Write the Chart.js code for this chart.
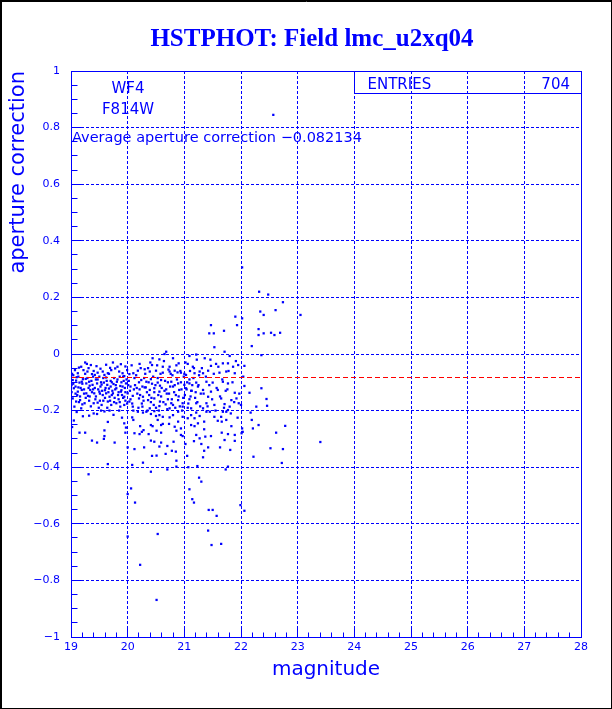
<!DOCTYPE html>
<html>
<head>
<meta charset="utf-8">
<script src="https://cdn.jsdelivr.net/npm/chart.js@4.4.1/dist/chart.umd.min.js"></script>
<style>
  html, body { margin: 0; padding: 0; background: #fff; }
  #wrap { position: relative; width: 612px; height: 709px; }
</style>
</head>
<body>
<div id="wrap"><canvas id="c" width="612" height="709"></canvas></div>
<script>
/* HSTPHOT aperture correction vs magnitude, WF4 / F814W */

const BLUE = "#0000ff";
const RED = "#ff0000";

const TITLE = "HSTPHOT: Field lmc_u2xq04";
const CHIP = "WF4";
const FILTER = "F814W";
const AVG_AP = -0.082134;
const ENTRIES = 704;

const magRange = [19, 28];
const apRange = [-1, 1];

// [magnitude, aperture correction]
const brightCore = [
  [19.28,-0.035],[19.35,-0.039],[19.18,-0.045],[19.22,-0.057],[19.07,-0.057],[19.12,-0.068],[19.29,-0.062],
  [19.37,-0.071],[19.42,-0.074],[19.47,-0.066],[19.56,-0.062],[19.59,-0.074],[19.65,-0.068],[19.71,-0.057],
  [19.78,-0.051],[19.85,-0.062],[19.91,-0.068],[19.94,-0.078],[19.99,-0.057],[20.03,-0.071],[20.10,-0.068],
  [19.03,-0.092],[19.09,-0.094],[19.15,-0.101],[19.21,-0.089],[19.27,-0.104],[19.32,-0.098],[19.38,-0.109],
  [19.46,-0.104],[19.52,-0.115],[19.58,-0.101],[19.64,-0.109],[19.70,-0.115],[19.75,-0.106],[19.80,-0.121],
  [19.87,-0.113],[19.91,-0.115],[19.97,-0.104],[20.05,-0.115],[20.11,-0.125],
  [19.05,-0.121],[19.12,-0.133],[19.19,-0.127],[19.27,-0.139],[19.34,-0.127],[19.41,-0.139],[19.50,-0.133],
  [19.56,-0.145],[19.62,-0.139],[19.68,-0.151],[19.74,-0.139],[19.83,-0.145],[19.88,-0.133],[19.94,-0.151],
  [20.00,-0.139],[20.09,-0.148],
  [19.03,-0.157],[19.09,-0.168],[19.16,-0.163],[19.24,-0.174],[19.32,-0.165],[19.40,-0.174],[19.47,-0.172],
  [19.54,-0.180],[19.65,-0.168],[19.71,-0.180],[19.80,-0.174],[19.87,-0.186],[19.94,-0.180],[20.03,-0.168],
  [20.09,-0.186],[19.06,-0.186],[19.18,-0.192]
];

const brightExtra = [
  [19.01,-0.11],[19.04,-0.075],[19.08,-0.115],[19.11,-0.145],[19.13,-0.08],[19.14,-0.17],[19.17,-0.12],
  [19.20,-0.105],[19.23,-0.14],[19.25,-0.07],[19.26,-0.155],[19.29,-0.085],[19.31,-0.12],[19.33,-0.15],
  [19.36,-0.095],[19.39,-0.125],[19.40,-0.06],[19.43,-0.16],[19.44,-0.09],[19.48,-0.125],[19.50,-0.08],
  [19.51,-0.165],[19.53,-0.10],[19.55,-0.13],[19.57,-0.085],[19.60,-0.155],[19.61,-0.12],[19.63,-0.095],
  [19.66,-0.135],[19.67,-0.07],[19.69,-0.165],[19.72,-0.10],[19.73,-0.13],[19.76,-0.085],[19.77,-0.155],
  [19.79,-0.11],[19.82,-0.09],[19.84,-0.135],[19.86,-0.17],[19.89,-0.10],[19.90,-0.145],[19.92,-0.08],
  [19.95,-0.12],[19.96,-0.165],[19.98,-0.09],
  [19.14,-0.048],[19.25,-0.03],[19.31,-0.05],[19.45,-0.043],[19.52,-0.052],[19.62,-0.038],[19.69,-0.049],
  [19.74,-0.03],[19.82,-0.045],[19.88,-0.036],[19.96,-0.044],[19.02,-0.07],[19.01,-0.135],
  [19.04,-0.105],[19.08,-0.14],[19.10,-0.082],[19.13,-0.118],[19.16,-0.15],[19.19,-0.098],[19.20,-0.178],
  [19.23,-0.125],[19.26,-0.088],[19.30,-0.148],[19.33,-0.112],[19.35,-0.185],[19.37,-0.135],[19.39,-0.08],
  [19.42,-0.12],[19.44,-0.15],[19.47,-0.09],[19.49,-0.19],[19.51,-0.14],[19.54,-0.108],[19.57,-0.165],
  [19.60,-0.128],[19.62,-0.083],[19.64,-0.19],[19.67,-0.122],[19.70,-0.095],[19.72,-0.145],[19.76,-0.17],
  [19.78,-0.125],[19.81,-0.098],[19.84,-0.16],[19.86,-0.08],[19.89,-0.128],[19.92,-0.155],[19.93,-0.095],
  [19.96,-0.135],[19.99,-0.175],[20.01,-0.11]
];

const brightLow = [
  [19.21,-0.22],[19.32,-0.218],[19.46,-0.212],[19.53,-0.20],[19.59,-0.203],[19.68,-0.20],[19.85,-0.20],
  [20.08,-0.224],[20.10,-0.233],[19.94,-0.245],[19.97,-0.26],[19.15,-0.278],[19.25,-0.278],[19.59,-0.27],
  [19.59,-0.29],[19.58,-0.30],[19.96,-0.278],[20.12,-0.28],[19.02,-0.258],[19.10,-0.205],[19.40,-0.21],
  [19.75,-0.215],[19.90,-0.225],[19.05,-0.235],[19.65,-0.24]
];

const midCore = [
  [20.68,0.008],[20.65,0.0],[21.21,-0.002],[21.09,-0.007],[20.44,-0.015],[20.56,-0.019],[20.80,-0.015],
  [20.90,-0.033],[20.21,-0.035],[20.43,-0.039],[20.74,-0.045],[21.06,-0.035],[21.15,-0.045],[20.18,-0.059],
  [20.30,-0.054],[20.39,-0.062],[20.50,-0.059],[20.62,-0.066],[20.74,-0.062],[20.83,-0.059],[20.94,-0.066],
  [21.03,-0.074],[21.18,-0.068],[21.27,-0.062],[20.24,-0.092],[20.33,-0.098],[20.41,-0.089],[20.53,-0.101],
  [20.59,-0.092],[20.77,-0.098],[20.89,-0.104],[21.00,-0.109],[21.09,-0.104],[21.21,-0.101],[20.21,-0.125],
  [20.30,-0.118],[20.39,-0.127],[20.47,-0.121],[20.56,-0.133],[20.68,-0.125],[20.80,-0.115],[20.91,-0.127],
  [21.03,-0.121],[21.12,-0.13],[21.24,-0.115],[20.20,-0.157],[20.27,-0.151],[20.36,-0.163],[20.47,-0.157],
  [20.57,-0.168],[20.71,-0.16],[20.77,-0.174],[20.89,-0.163],[20.97,-0.174],[21.09,-0.16],[21.21,-0.174],
  [20.26,-0.186],[20.39,-0.192],[20.56,-0.184],[20.74,-0.192],[20.97,-0.186],[21.12,-0.192]
];

const midExtra = [
  [20.02,-0.095],[20.05,-0.16],[20.07,-0.04],[20.10,-0.20],[20.13,-0.11],[20.15,-0.075],[20.17,-0.14],
  [20.19,-0.19],[20.23,-0.05],[20.26,-0.115],[20.28,-0.165],[20.31,-0.07],[20.34,-0.135],[20.35,-0.20],
  [20.37,-0.10],[20.40,-0.03],[20.42,-0.155],[20.45,-0.08],[20.46,-0.18],[20.49,-0.11],[20.52,-0.04],
  [20.54,-0.145],[20.55,-0.20],[20.58,-0.07],[20.60,-0.12],[20.63,-0.17],[20.64,-0.025],[20.66,-0.095],
  [20.69,-0.14],[20.70,-0.195],[20.72,-0.055],[20.75,-0.115],[20.78,-0.16],[20.79,-0.075],[20.82,-0.135],
  [20.84,-0.19],[20.86,-0.04],[20.87,-0.09],[20.90,-0.15],[20.93,-0.06],[20.95,-0.125],[20.96,-0.20],
  [20.99,-0.08],[21.01,-0.145],[21.02,-0.03],[21.05,-0.10],[21.07,-0.175],[21.10,-0.06],[21.13,-0.13],
  [21.16,-0.085],[21.19,-0.155],[21.22,-0.02],[21.25,-0.11],[21.28,-0.185],
  [20.04,-0.13],[20.08,-0.175],[20.12,-0.085],[20.16,-0.12],[20.20,-0.10],[20.22,-0.145],[20.25,-0.175],
  [20.29,-0.085],[20.32,-0.118],[20.36,-0.05],[20.38,-0.145],[20.41,-0.17],[20.43,-0.105],[20.47,-0.135],
  [20.50,-0.19],[20.53,-0.085],[20.57,-0.112],[20.59,-0.15],[20.62,-0.045],[20.65,-0.13],[20.67,-0.178],
  [20.71,-0.10],[20.73,-0.14],[20.76,-0.07],[20.80,-0.18],[20.83,-0.11],[20.85,-0.145],[20.88,-0.065],
  [20.92,-0.185],[20.94,-0.10],[20.98,-0.155],[21.00,-0.07],[21.04,-0.125],[21.06,-0.19],[21.09,-0.09],
  [21.11,-0.15],[21.14,-0.11],[21.17,-0.05],[21.20,-0.135],[21.23,-0.17],[21.26,-0.075],[21.29,-0.14]
];

const midLow = [
  [20.18,-0.204],[20.27,-0.207],[20.33,-0.204],[20.41,-0.212],[20.47,-0.202],[20.50,-0.219],[20.56,-0.216],
  [20.62,-0.222],[20.74,-0.224],[20.80,-0.216],[20.89,-0.204],[20.97,-0.222],[21.06,-0.227],[21.12,-0.216],
  [21.18,-0.227],[21.21,-0.207],[21.27,-0.219],[20.22,-0.255],[20.41,-0.251],[20.44,-0.255],[20.53,-0.233],
  [20.59,-0.251],[20.62,-0.247],[20.73,-0.247],[20.83,-0.257],[20.89,-0.239],[20.94,-0.263],[21.12,-0.251],
  [21.18,-0.255],[21.24,-0.245],[20.21,-0.283],[20.25,-0.275],[20.28,-0.269],[20.37,-0.283],[20.51,-0.271],
  [20.59,-0.278],[20.86,-0.271],[20.94,-0.286],[20.97,-0.290],[21.21,-0.286],[21.27,-0.298]
];

const lowTail = [
  [19.37,-0.306],[19.46,-0.313],[19.77,-0.313],[20.00,-0.33],[20.12,-0.336],[20.29,-0.33],[20.41,-0.306],
  [20.47,-0.31],[20.56,-0.327],[20.59,-0.313],[20.67,-0.353],[20.78,-0.342],[20.85,-0.345],[20.70,-0.325],
  [20.81,-0.31],[21.02,-0.318],[21.17,-0.308],[21.30,-0.318],[21.42,-0.33],[21.35,-0.342],[21.63,-0.33],
  [21.81,-0.339],[21.71,-0.304],[21.89,-0.307],[22.22,-0.363],[19.65,-0.389],[20.08,-0.392],[20.27,-0.384],
  [20.43,-0.36],[20.51,-0.359],[20.86,-0.377],[21.05,-0.36],[21.07,-0.40],[21.23,-0.396],[20.86,-0.398],
  [20.41,-0.416],[20.70,-0.408],[21.73,-0.408],[21.77,-0.398],[19.31,-0.425],[21.26,-0.437],[21.30,-0.451],
  [21.09,-0.478],[20.06,-0.475],[20.00,-0.495],[20.13,-0.525],[21.14,-0.513],[21.17,-0.525],[21.43,-0.551],
  [21.50,-0.551],[21.57,-0.572],[21.99,-0.534],[22.06,-0.554],[21.42,-0.624],[20.53,-0.636],[20.00,-0.645],
  [21.48,-0.675],[21.65,-0.671],[20.22,-0.745],[20.51,-0.869],[21.33,-0.365]
];

const faintCore = [
  [21.53,0.024],[21.71,0.008],[21.80,-0.007],[22.19,0.028],[22.36,-0.004],[21.36,-0.015],[21.56,-0.035],
  [21.68,-0.033],[21.47,-0.042],[21.77,-0.033],[21.86,-0.045],[21.95,-0.039],[22.06,-0.042],[21.33,-0.068],
  [21.42,-0.059],[21.62,-0.066],[21.74,-0.062],[21.89,-0.068],[21.39,-0.098],[21.50,-0.101],[21.68,-0.098],
  [21.77,-0.104],[22.06,-0.113],[21.33,-0.127],[21.47,-0.133],[21.59,-0.127],[21.76,-0.125],[21.89,-0.137],
  [22.15,-0.137],[22.36,-0.121],[21.42,-0.151],[21.65,-0.157],[21.83,-0.163],[21.92,-0.157],[21.39,-0.174],
  [21.53,-0.180],[21.71,-0.177],[21.96,-0.174],[22.27,-0.186],[21.33,-0.192],[21.80,-0.186]
];

const faintLow = [
  [21.39,-0.204],[21.45,-0.204],[21.53,-0.222],[21.65,-0.222],[21.68,-0.204],[21.74,-0.204],[21.77,-0.198],
  [22.17,-0.207],[21.35,-0.239],[21.59,-0.236],[21.66,-0.239],[21.74,-0.233],[21.83,-0.255],[22.02,-0.263],
  [22.03,-0.275],[22.19,-0.233],[22.31,-0.251],[22.21,-0.263],[21.35,-0.266],[21.47,-0.290],[21.37,-0.292],
  [21.66,-0.278],[21.77,-0.283],[21.89,-0.286],[22.01,-0.280]
];

const faintExtra = [
  [21.31,-0.05],[21.34,-0.14],[21.38,-0.08],[21.41,-0.185],[21.44,-0.11],[21.46,-0.02],[21.49,-0.16],
  [21.52,-0.07],[21.55,-0.20],[21.57,-0.12],[21.60,-0.045],[21.63,-0.15],[21.67,-0.09],[21.70,-0.19],
  [21.73,-0.13],[21.78,-0.06],[21.82,-0.21],[21.85,-0.10],[21.88,-0.17],[21.91,-0.025],[21.94,-0.225],
  [21.97,-0.14],[22.00,-0.18],[22.04,-0.08]
];

const faintHigh = [
  [22.02,0.306],[22.32,0.22],[22.48,0.21],[22.74,0.183],[22.34,0.15],[22.40,0.138],[22.61,0.155],
  [23.05,0.138],[21.90,0.132],[22.02,0.126],[21.93,0.102],[21.47,0.102],[21.70,0.082],[22.31,0.088],
  [22.31,0.067],[22.40,0.073],[22.53,0.075],[22.59,0.067],[22.69,0.075],[21.52,0.073],[21.44,0.073]
];

const faintTail = [
  [22.45,-0.159],[22.46,-0.183],[22.62,-0.278],[22.78,-0.254],[22.52,-0.333],[22.74,-0.336],
  [22.72,-0.385],[23.40,-0.311],[22.57,0.845]
];

const stars = [].concat(
  brightCore, brightExtra, brightLow, midCore, midExtra, midLow,
  lowTail, faintCore, faintLow, faintExtra, faintHigh, faintTail
).map(([m, a]) => ({ x: m, y: a }));

const FONT = '"DejaVu Sans", sans-serif';

function fmtTick(v) {
  const s = Math.round(Math.abs(v) * 10) / 10;
  return (v < -1e-9 ? "\u2212" : "") + String(s);
}

// same pixel snapping Chart.js uses for 1px grid lines
const snap = (p) => Math.round(p - 0.5) + 0.5;

/* average line, frame, inner ticks, labels, stats box */
const decor = {
  id: "decor",
  afterDatasetsDraw(chart) {
    const { ctx, chartArea: a, scales: { y } } = chart;
    const py = snap(y.getPixelForValue(AVG_AP));
    ctx.save();
    ctx.strokeStyle = RED;
    ctx.lineWidth = 1;
    ctx.setLineDash([5, 3]);
    ctx.beginPath();
    ctx.moveTo(a.left, py);
    ctx.lineTo(a.right, py);
    ctx.stroke();
    ctx.restore();
  },
  afterDraw(chart) {
    const { ctx, chartArea: a, scales: { x, y } } = chart;
    ctx.save();
    ctx.setLineDash([]);
    ctx.lineWidth = 1;

    // canvas border
    ctx.strokeStyle = "#000";
    ctx.strokeRect(0.5, 0.5, 611, 708);
    ctx.beginPath();
    ctx.moveTo(1.5, 1); ctx.lineTo(1.5, 709);
    ctx.moveTo(1, 1.5); ctx.lineTo(612, 1.5);
    ctx.stroke();

    // plot frame
    ctx.strokeStyle = BLUE;
    const l = snap(a.left), r = snap(a.right), t = snap(a.top), b = snap(a.bottom);
    ctx.strokeRect(l, t, r - l, b - t);

    // ticks on bottom and left axes
    ctx.beginPath();
    for (let i = 0; i <= 45; i++) {
      const px = snap(x.getPixelForValue(magRange[0] + i * 0.2));
      const len = i % 5 === 0 ? 10 : 5;
      ctx.moveTo(px, b); ctx.lineTo(px, b - len);
    }
    for (let i = 0; i <= 40; i++) {
      const py = snap(y.getPixelForValue(apRange[0] + i * 0.05));
      const len = i % 4 === 0 ? 10 : 6;
      ctx.moveTo(l, py); ctx.lineTo(l + len, py);
    }
    ctx.stroke();

    // title
    ctx.fillStyle = BLUE;
    ctx.font = 'bold 25px "Liberation Serif", serif';
    ctx.textAlign = "center";
    ctx.textBaseline = "alphabetic";
    ctx.fillText(TITLE, 312, 46);

    // chip / filter labels
    ctx.font = "15px " + FONT;
    ctx.fillText(CHIP, 128, a.top + 22);
    ctx.fillText(FILTER, 128, a.top + 43);
    ctx.textAlign = "left";
    ctx.font = "14.5px " + FONT;
    ctx.fillText("Average aperture correction \u22120.082134", a.left + 1, a.top + 71);

    // ENTRIES box
    const bx = snap(x.getPixelForValue(24));
    ctx.strokeRect(bx, t, r - bx, 22);
    ctx.font = "15px " + FONT;
    ctx.fillText("ENTRIES", bx + 13, a.top + 18);
    ctx.textAlign = "right";
    ctx.fillText(String(ENTRIES), a.right - 11, a.top + 18);
    ctx.restore();
  }
};

Chart.defaults.font.family = FONT;
Chart.defaults.color = BLUE;

new Chart(document.getElementById("c"), {
  type: "scatter",
  data: {
    datasets: [
      {
        label: "stars",
        data: stars,
        pointStyle: "rect",
        pointRadius: 1.6,
        pointBorderWidth: 0,
        backgroundColor: BLUE,
        borderColor: BLUE,
      },
    ],
  },
  options: {
    responsive: false,
    animation: false,
    events: [],
    layout: { padding: { top: 71, right: 31, bottom: 0, left: 0 } },
    plugins: { legend: { display: false }, tooltip: { enabled: false }, title: { display: false } },
    scales: {
      x: {
        type: "linear",
        min: magRange[0],
        max: magRange[1],
        afterFit: (s) => { s.height = 72; },
        ticks: { stepSize: 1, padding: 4, color: BLUE, font: { size: 11 }, maxRotation: 0 },
        grid: { color: BLUE, lineWidth: 1, drawTicks: false },
        border: { display: false, dash: [3, 2] },
        title: { display: true, text: "magnitude", color: BLUE, font: { size: 20 }, padding: { top: 0, bottom: 27 } },
      },
      y: {
        type: "linear",
        min: apRange[0],
        max: apRange[1],
        afterFit: (s) => { s.width = 71; },
        ticks: { stepSize: 0.2, padding: 11, color: BLUE, font: { size: 11 }, callback: fmtTick },
        grid: { color: BLUE, lineWidth: 1, drawTicks: false },
        border: { display: false, dash: [3, 2] },
        title: { display: true, text: "aperture correction", align: "end", color: BLUE, font: { size: 21 }, padding: { top: 6, bottom: 0 } },
      },
    },
  },
  plugins: [decor],
});
</script>
</body>
</html>
